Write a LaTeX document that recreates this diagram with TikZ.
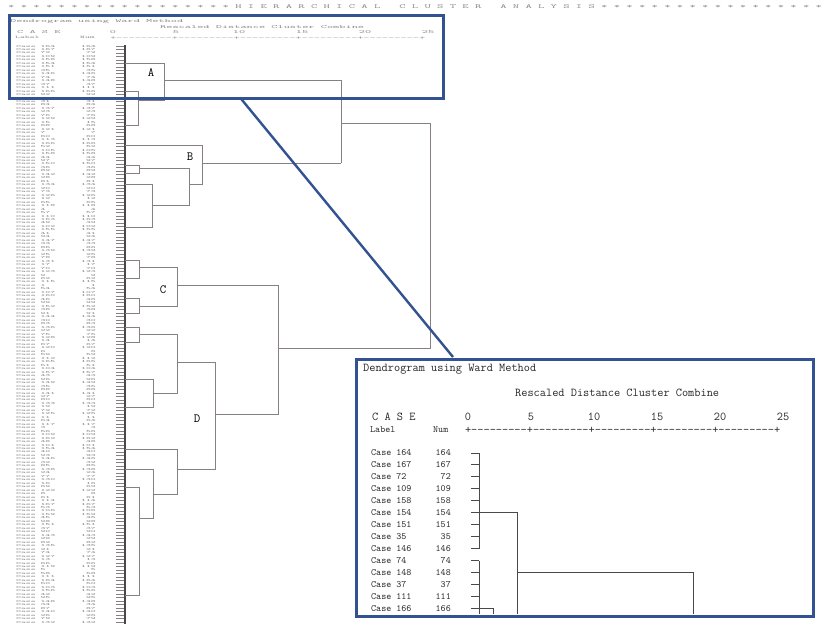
\documentclass[tikz,border=0pt]{standalone}
\usepackage{fontspec}
\usepackage{graphicx}
\definecolor{boxblue}{RGB}{50,82,145}
\definecolor{treegray}{RGB}{135,128,128}
\definecolor{treedark}{RGB}{75,72,72}
\definecolor{maintext}{RGB}{135,135,135}
\definecolor{insettext}{RGB}{40,40,40}
\newcommand{\sqz}[2]{\scalebox{1}[#1]{#2}}
\tikzset{
  mtxt/.style={inner sep=0pt, text=maintext, font=\ttfamily\fontsize{12}{12}\selectfont},
  mrow/.style={inner sep=0pt, text=maintext, font=\ttfamily\fontsize{9.3}{9.3}\selectfont},
  itxt/.style={inner sep=0pt, text=insettext, font=\ttfamily\fontsize{12}{12}\selectfont},
  irow/.style={inner sep=0pt, text=insettext, font=\ttfamily\fontsize{9.6}{9.6}\selectfont},
  dline/.style={draw=treegray, line width=1pt},
  dspine/.style={draw=treedark, line width=1.3pt},
  rowtick/.style={draw=treegray, line width=0.6pt},
  itree/.style={draw=treedark, line width=1pt},
  clab/.style={inner sep=0pt, text=black, font=\ttfamily\fontsize{12.5}{12.5}\selectfont},
  zoombox/.style={draw=boxblue, line width=2.7pt},
  zoomline/.style={draw=boxblue, line width=2.4pt},
}
\begin{document}
\begin{tikzpicture}[x=1pt,y=-1pt]
\useasboundingbox[fill=white] (0,0) rectangle (833,624);

% ---------- main (compressed) dendrogram ----------
\node[mtxt, anchor=west, font=\ttfamily\fontsize{12.25}{12.25}\selectfont] (banner) at (8,7) {\sqz{0.5}{* * * * * * * * * * * * * * * * * * H I E R A R C H I C A L~~~C L U S T E R~~~A N A L Y S I S * * * * * * * * * * * * * * * * * *}};
\node[mtxt, anchor=west] (mtitle) at (10,21.5) {\sqz{0.4}{Dendrogram using Ward Method}};
\node[mtxt, anchor=west] (mresc) at (160,27) {\sqz{0.4}{Rescaled Distance Cluster Combine}};
\node[mtxt, anchor=west] (mcase) at (17,32.5) {\sqz{0.4}{C~A~S~E}};
\node[mrow, anchor=west] (mlabel) at (15,37.5) {\sqz{0.4}{Label}};
\node[mrow, anchor=west] (mnum) at (80,37.5) {\sqz{0.4}{Num}};
\foreach \v/\xx in {0/113,5/176,10/239,15/302,20/365,25/428}{
  \node[mtxt] (mscale\v) at (\xx,32.5) {\sqz{0.4}{\v}};
}
\node[mtxt, anchor=west] (maxis) at (109.85,38) {\sqz{0.4}{+---------+---------+---------+---------+---------+}};

\foreach \i in {0,...,166}{
  \ifnum\i<14
    \pgfmathtruncatemacro\cn{{164,167,72,109,158,154,151,35,146,74,148,37,111,166}[\i]}
  \else
    \pgfmathtruncatemacro\cn{mod(\i*53+17,167)+1}
  \fi
  \pgfmathsetmacro\yy{46+3.47*\i}
  \node[mrow, anchor=west] (ml\i) at (16,\yy) {\sqz{0.35}{Case \cn}};
  \node[mrow, anchor=east] (mn\i) at (96,\yy) {\sqz{0.35}{\cn}};
  \draw[rowtick] (116,\yy) -- (125,\yy);
}
\draw[dspine] (125,45) -- (125,624);

% cluster A
\draw[dline] (125,63.4) -- (164,63.4) -- (164,100.5) -- (138,100.5);
\draw[dline] (125,91.1) -- (138,91.1) -- (138,125) -- (125,125);
\draw[dline] (164,80.7) -- (341,80.7) -- (341,163);
\draw[dline] (341,123) -- (430,123) -- (430,348) -- (278,348);
% cluster B
\draw[dline] (125,145) -- (202,145) -- (202,184) -- (189,184);
\draw[dline] (202,163) -- (341,163);
\draw[dline] (125,165) -- (139,165) -- (139,173) -- (125,173);
\draw[dline] (139,168) -- (189,168) -- (189,205) -- (152,205);
\draw[dline] (125,184) -- (152,184) -- (152,227) -- (125,227);
% cluster C
\draw[dline] (125,260) -- (139,260) -- (139,278) -- (125,278);
\draw[dline] (139,267) -- (177,267) -- (177,306) -- (139,306);
\draw[dline] (125,298) -- (139,298) -- (139,313) -- (125,313);
\draw[dline] (177,285) -- (278,285) -- (278,414) -- (215,414);
% cluster D
\draw[dline] (125,327) -- (139,327) -- (139,342) -- (125,342);
\draw[dline] (139,334) -- (177,334) -- (177,393) -- (153,393);
\draw[dline] (125,379) -- (153,379) -- (153,407) -- (125,407);
\draw[dline] (177,362) -- (215,362) -- (215,469) -- (177,469);
\draw[dline] (125,449) -- (177,449) -- (177,494) -- (153,494);
\draw[dline] (125,469) -- (153,469) -- (153,518) -- (139,518);
\draw[dline] (125,487) -- (139,487) -- (139,595) -- (125,595);

\node[clab] (labA) at (151,73) {A};
\node[clab] (labB) at (190,157) {B};
\node[clab] (labC) at (163,290) {C};
\node[clab] (labD) at (197,419) {D};

% ---------- zoom frame and connector ----------
\node[zoombox, anchor=north west, minimum width=434pt, minimum height=83pt, inner sep=0pt] (srcbox) at (8,14) {};
\coordinate (zsrc) at (240,97.5);
\coordinate (zdst) at (453,357);
\draw[zoomline] (zsrc) -- (zdst);

% ---------- inset ----------
\fill[white] (355,358) rectangle (812,615);
\node[itxt, anchor=west] (ititle) at (363,369) {Dendrogram using Ward Method};
\node[itxt, anchor=west] (iresc) at (515,393) {Rescaled Distance Cluster Combine};
\node[itxt, anchor=west] (icase) at (372,417) {C~A~S~E};
\foreach \v/\xx in {0/468,5/531,10/594,15/657,20/720,25/783}{
  \node[itxt] (iscale\v) at (\xx,417) {\v};
}
\node[irow, anchor=west] (ilabel) at (370,430) {Label};
\node[irow, anchor=west] (inum) at (433,430) {Num};
\node[itxt, anchor=west] (iaxis) at (464.85,430) {+---------+---------+---------+---------+---------+};

\foreach \cn [count=\k from 0] in {164,167,72,109,158,154,151,35,146,74,148,37,111,166}{
  \pgfmathsetmacro\yy{453+11.95*\k}
  \node[irow, anchor=west] (il\k) at (371,\yy) {Case \cn};
  \node[irow, anchor=east] (in\k) at (451,\yy) {\cn};
  \draw[itree] (471,\yy) -- (479,\yy);
}
\draw[itree] (479,453) -- (479,548.6);
\draw[itree] (479,512.75) -- (517,512.75) -- (517,614);
\draw[itree] (479,560.5) -- (479,614);
\draw[itree] (479,608.35) -- (493,608.35) -- (493,614);
\draw[itree] (517,572.5) -- (693,572.5) -- (693,614);

\node[zoombox, anchor=north west, minimum width=457pt, minimum height=257pt, inner sep=0pt] (inset) at (355,358) {};
\end{tikzpicture}
\end{document}
